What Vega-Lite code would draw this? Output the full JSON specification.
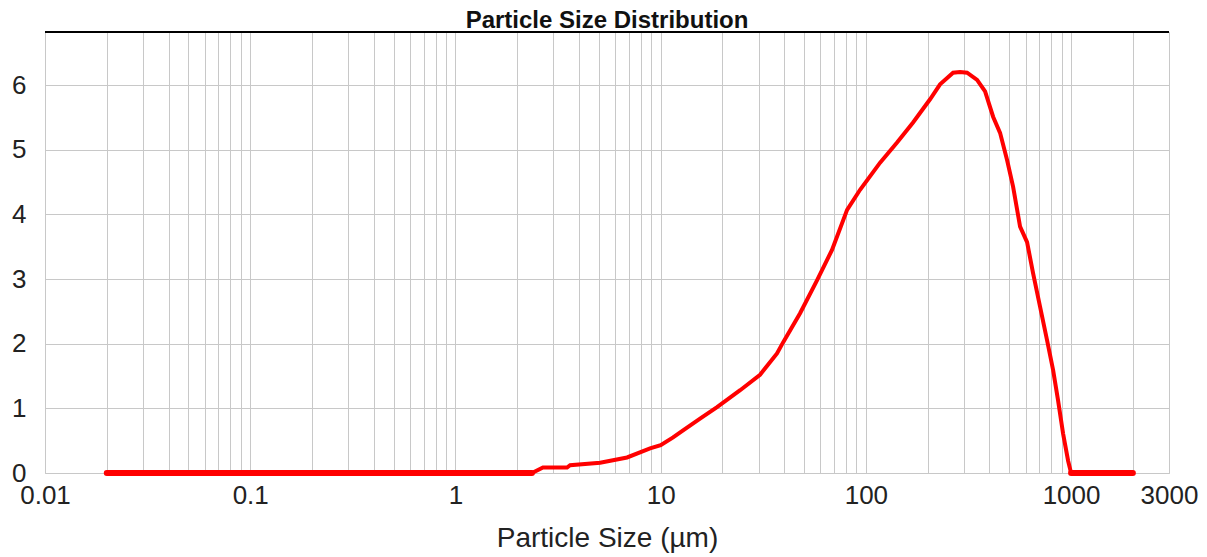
{
  "$schema": "https://vega.github.io/schema/vega-lite/v6.json",
  "width": 1124,
  "height": 441,
  "autosize": {"type": "none"},
  "padding": {"left": 45, "top": 32, "right": 38, "bottom": 84},
  "background": "white",
  "title": {
    "text": "Particle Size Distribution",
    "font": "Liberation Sans",
    "fontSize": 24,
    "fontWeight": "bold",
    "color": "#111",
    "anchor": "middle",
    "baseline": "alphabetic",
    "offset": -21
  },
  "config": {
    "view": {"stroke": "#c8c8c8", "strokeWidth": 1},
    "axis": {
      "labelFont": "Liberation Sans",
      "titleFont": "Liberation Sans",
      "labelColor": "#222",
      "titleColor": "#222",
      "gridColor": "#c8c8c8",
      "gridWidth": 1,
      "gridOpacity": 1,
      "domain": false,
      "ticks": false,
      "tickSize": 0
    }
  },
  "data": {
    "values": [
      {"size": 0.02, "pct": 0},
      {"size": 0.1, "pct": 0},
      {"size": 1, "pct": 0},
      {"size": 2.36, "pct": 0},
      {"size": 2.67, "pct": 0.085},
      {"size": 3.5, "pct": 0.085},
      {"size": 3.62, "pct": 0.12},
      {"size": 5.07, "pct": 0.16},
      {"size": 6.86, "pct": 0.24},
      {"size": 8.88, "pct": 0.38},
      {"size": 10, "pct": 0.43},
      {"size": 11.5, "pct": 0.55},
      {"size": 12.86, "pct": 0.66},
      {"size": 15.56, "pct": 0.84},
      {"size": 18.83, "pct": 1.02},
      {"size": 24.4, "pct": 1.28},
      {"size": 30.5, "pct": 1.52},
      {"size": 36.9, "pct": 1.85},
      {"size": 39.5, "pct": 2.02},
      {"size": 47.8, "pct": 2.47},
      {"size": 57.8, "pct": 2.98},
      {"size": 68.4, "pct": 3.45},
      {"size": 81, "pct": 4.07},
      {"size": 93.7, "pct": 4.38},
      {"size": 117.3, "pct": 4.8},
      {"size": 141.9, "pct": 5.11},
      {"size": 169.8, "pct": 5.42},
      {"size": 205.5, "pct": 5.78},
      {"size": 229.9, "pct": 6.01},
      {"size": 266.1, "pct": 6.19},
      {"size": 287.8, "pct": 6.2},
      {"size": 311.3, "pct": 6.19},
      {"size": 348.3, "pct": 6.08},
      {"size": 381, "pct": 5.9},
      {"size": 416.9, "pct": 5.51},
      {"size": 450.8, "pct": 5.26},
      {"size": 487.6, "pct": 4.84},
      {"size": 521.6, "pct": 4.43},
      {"size": 564.2, "pct": 3.81},
      {"size": 610.3, "pct": 3.57},
      {"size": 652.7, "pct": 3.09},
      {"size": 706.3, "pct": 2.57},
      {"size": 763.9, "pct": 2.05},
      {"size": 817.4, "pct": 1.59},
      {"size": 864.4, "pct": 1.12},
      {"size": 914.2, "pct": 0.61},
      {"size": 967, "pct": 0.19},
      {"size": 1000, "pct": 0},
      {"size": 1500, "pct": 0},
      {"size": 2000, "pct": 0}
    ]
  },
  "encoding": {
    "x": {
      "field": "size",
      "type": "quantitative",
      "scale": {"type": "log", "domain": [0.01, 3000], "nice": false},
      "axis": {
        "title": "Particle Size (µm)",
        "titleFontSize": 28,
        "titleFontWeight": "normal",
        "titlePadding": 16,
        "labelFontSize": 26,
        "labelPadding": 9,
        "labelOverlap": false,
        "labelFlush": false,
        "labelBound": false,
        "values": [0.01, 0.02, 0.03, 0.04, 0.05, 0.06, 0.07, 0.08, 0.09, 0.1, 0.2, 0.3, 0.4, 0.5, 0.6, 0.7, 0.8, 0.9, 1, 2, 3, 4, 5, 6, 7, 8, 9, 10, 20, 30, 40, 50, 60, 70, 80, 90, 100, 200, 300, 400, 500, 600, 700, 800, 900, 1000, 2000, 3000],
        "labelExpr": "indexof([0.01, 0.1, 1, 10, 100, 1000, 3000], datum.value) >= 0 ? format(datum.value, '~g') : ''"
      }
    },
    "y": {
      "field": "pct",
      "type": "quantitative",
      "scale": {"domain": [0, 6.82], "nice": false, "zero": true},
      "axis": {
        "title": null,
        "values": [0, 1, 2, 3, 4, 5, 6],
        "labelFontSize": 26,
        "labelPadding": 19,
        "labelFlush": false,
        "labelBound": false
      }
    }
  },
  "layer": [
    {
      "mark": {"type": "rule", "color": "#000", "strokeWidth": 1.5},
      "encoding": {"y": {"datum": 6.82}, "x": {"value": 0}, "x2": {"value": 1124}}
    },
    {
      "mark": {"type": "line", "color": "#ff0000", "strokeWidth": 4, "clip": false, "interpolate": "linear"}
    },
    {
      "transform": [{"filter": "datum.size <= 2.36"}],
      "mark": {"type": "line", "color": "#ff0000", "strokeWidth": 6, "strokeCap": "round", "clip": false}
    },
    {
      "transform": [{"filter": "datum.size >= 1000"}],
      "mark": {"type": "line", "color": "#ff0000", "strokeWidth": 6, "strokeCap": "round", "clip": false}
    }
  ]
}
